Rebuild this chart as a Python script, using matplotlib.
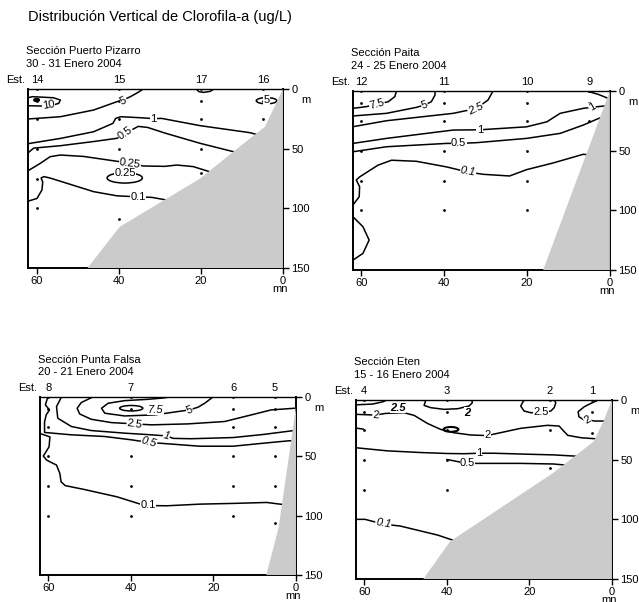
import matplotlib.pyplot as plt
from matplotlib.patches import Ellipse

plt.rcParams['font.family'] = ['Liberation Sans', 'DejaVu Sans']

# ---------------- Sección Puerto Pizarro ----------------
pp_est = ["14", "15", "17", "16"]
pp_est_x = [60, 40, 20, 4.8]
pp_depths = [[0, 10, 25, 50, 75, 100], [0, 10, 25, 50, 109], [0, 10, 25, 50, 70], [0, 10, 25]]
pp_shelf_x = [47.7, 39.8, 20.2, 12.1, 4.4, 0, 0]
pp_shelf_d = [150, 115.4, 75, 52.5, 31.6, 0, 150]
pp_c10_x = [62.2, 61.1, 56, 54.3, 54.7, 56.5, 59.2, 62.2]
pp_c10_d = [7.3, 6.4, 7.3, 9.2, 12, 13.8, 14.2, 14.0]
pp_c5_x = [62.2, 54.3, 46.2, 40.5, 38.9, 37, 35.2, 34.1]
pp_c5_d = [25.1, 23.2, 17.6, 10.6, 9.2, 6, 2.5, 0]
pp_cap_x = [21.2, 20.5, 19.4, 17.8, 16.8]
pp_cap_d = [0, 2.2, 2.8, 2.0, 0]
pp_c1_x = [62.2, 54.3, 46.2, 41.5, 40.8, 39.6, 35, 31.6, 29.6, 20.2, 8.0, 5.5]
pp_c1_d = [45.8, 41.4, 35.8, 28.8, 24.6, 23.2, 24, 24.8, 24.6, 30.7, 36.6, 39]
pp_c05_x = [62.2, 60.8, 54.3, 46.2, 40.5, 38.5, 36.5, 35.3, 33, 28.8, 20.2, 12.1, 6]
pp_c05_d = [53.5, 49.5, 47.5, 44, 41.3, 37.5, 33.5, 31.3, 32.2, 36.9, 45.5, 52.5, 58]
pp_c025_x = [62.2, 59.2, 56.8, 54.3, 48.6, 41, 37.3, 34.1, 28.8, 25.9, 21.9, 17.4, 14]
pp_c025_d = [68.5, 62.3, 56.7, 55.3, 56.5, 60.3, 62, 64.5, 64.8, 63.7, 65, 69.8, 75]
pp_c01_x = [62.2, 60, 58.8, 58.6, 59, 58.3, 56.8, 52.7, 46.2, 40.5, 37.5, 35.3, 32, 28.4, 24]
pp_c01_d = [94, 91.7, 84.6, 78, 74.5, 73.4, 74.6, 79, 86, 89.5, 90, 90.3, 90.8, 93, 96]
# closed loops: centre x, centre depth, width (mn), height (m), line width
pp_loops = [(60.1, 9.2, 1.0, 1.4, 2.0), (4.0, 9.8, 5.0, 5.2, 1.1), (38.6, 74.5, 8.6, 8.6, 1.1)]

# ---------------- Sección Paita ----------------
pa_est = ["12", "11", "10", "9"]
pa_est_x = [60, 40, 20, 5]
pa_depths = [[0, 10, 25, 50, 75, 100], [0, 10, 25, 50, 75, 100], [0, 10, 25, 50, 75, 100], [0, 10, 25]]
pa_shelf_x = [16.1, 0, 0]
pa_shelf_d = [150, 0, 150]
pa_c75_x = [62, 58.8, 56, 53.5, 51.9, 51.5]
pa_c75_d = [14.5, 13.1, 10.9, 9, 4.7, 0]
pa_c5_x = [62, 53.9, 46.7, 44.7, 43.1, 42.2, 42.2]
pa_c5_d = [20.9, 18.7, 13.7, 11.7, 9, 3.4, 0]
pa_c25_x = [62, 53.9, 37.8, 32.2, 29.4, 28.2]
pa_c25_d = [29.9, 24.9, 18.7, 14.6, 7.5, 0]
pa_top_x = [5.6, 2.8, 0.8, 0]
pa_top_d = [0, 2.8, 5.6, 6.5]
pa_c1_x = [62, 53.9, 37.8, 31.4, 20.1, 15.2, 12, 6.4, 4.4, 1.0]
pa_c1_d = [43.9, 39.7, 32.7, 32.5, 30, 25.8, 18.7, 14.5, 13.7, 12.4]
pa_c05_x = [62, 53.9, 39.4, 36.6, 32.2, 20.1, 12, 6.4, 3.2, 2]
pa_c05_d = [50.9, 46.7, 43.9, 43.9, 43.3, 39.7, 35.5, 28.5, 23.7, 22]
pa_c01_x = [5.0, 6.4, 13.7, 20.1, 24.2, 30.6, 34.4, 39.4, 46.7, 52.7, 56, 60.4, 61.2, 60.4, 60.5, 62]
pa_c01_d = [53.5, 53, 60.3, 65.9, 71.2, 69.8, 67.8, 63.6, 58.9, 58, 62.2, 72, 74.6, 80.2, 88.6, 95.5]
pa_c01b_x = [62, 59.6, 58.1, 59.6, 62]
pa_c01b_d = [105.4, 113.7, 124.9, 136.1, 141.7]
pa_loops = []

# ---------------- Sección Punta Falsa ----------------
pf_est = ["8", "7", "6", "5"]
pf_est_x = [60, 40, 15.2, 5.1]
pf_depths = [[0, 10, 25, 50, 75, 100], [0, 10, 25, 50, 75, 100], [0, 10, 25, 50, 75, 100], [0, 10, 25, 50, 75, 106]]
pf_shelf_x = [7.2, 4.2, 1.5, 0, 0]
pf_shelf_d = [150, 110, 45, 8, 150]
pf_c5_x = [20.1, 22.1, 23.7, 25.8, 28.6, 34.2, 41.5, 46.3, 47.1, 45.5, 41.5, 35.9, 32, 30.6]
pf_c5_d = [0, 5.3, 8.6, 10.9, 12.3, 15.1, 16, 13.7, 9.5, 5.3, 3.1, 2, 0.8, 0]
pf_c25_x = [49.2, 52, 53, 52.4, 49.6, 44.7, 39.1, 35, 26.2, 17.3, 10.8, 6, 0.3]
pf_c25_d = [0, 4.7, 9.5, 14.3, 18.8, 21.6, 22.7, 23.5, 22.7, 20.7, 15.1, 10.9, 9.5]
pf_c1_x = [56.8, 58, 57.7, 54.4, 49.6, 41.5, 35.9, 31.4, 29.7, 25.4, 15.2, 7.9, 0.5]
pf_c1_d = [0, 8.1, 17.9, 24.9, 28.3, 30.5, 31.7, 32.8, 34.9, 35.2, 34.2, 31.6, 28.3]
pf_c05_x = [60.1, 60.7, 59.7, 60.5, 60.9, 60.9, 54.4, 46.4, 39.9, 35.5, 32.1, 23.3, 15.2, 7.1, 1.9, 0.5]
pf_c05_d = [0, 6.7, 10.9, 15.1, 21, 29.9, 31.9, 33.3, 36.1, 38.4, 39.2, 41.5, 41.5, 38.7, 37, 36.8]
pf_c01_x = [62, 59.6, 59.8, 60.8, 61.2, 60.4, 58, 57.2, 56.9, 55.9, 51.5, 43.4, 37.8, 35.8, 31.3, 23.2, 15.2, 7.1, 3.9, 2]
pf_c01_d = [30.8, 33.6, 42, 47.6, 49.8, 53.2, 57.4, 64.4, 71.4, 74.7, 77.8, 84.1, 90.2, 91.5, 91.7, 90.3, 89.7, 88.9, 90.3, 91]
pf_loops = [(39.9, 9.5, 5.6, 4.6, 1.1)]

# ---------------- Sección Eten ----------------
et_est = ["4", "3", "2", "1"]
et_est_x = [60, 40, 15, 4.9]
et_depths = [[0, 10, 25, 50, 75], [0, 10, 25, 50, 75], [0, 25, 56.7], [0, 10, 27.4]]
et_shelf_x = [45.7, 39.2, 14.2, 4.5, 2.2, 0, 0]
et_shelf_d = [150, 118.5, 61, 35, 19, 0, 150]
et_c25a_x = [62, 58, 55.5, 54.5]
et_c25a_d = [4, 3.4, 1.5, 0]
et_c2_x = [62, 57.2, 54.8, 50.4, 47.9, 44.7, 41.5, 38.3, 34.2, 30.2, 27.7, 22.1, 15.6, 12.8, 11.7, 10.7, 7.5, 4.3, 2.5]
et_c2_d = [12, 12.6, 11.2, 10.6, 12.9, 19.6, 24.6, 27.4, 29.3, 29.8, 27.9, 23.7, 21.2, 21.8, 26, 29.6, 31.6, 32.4, 32.4]
et_c2s_x = [62, 60.2]
et_c2s_d = [23.5, 24.4]
et_c2u_x = [45.1, 45.5, 43.9, 40.7, 37.4, 34.6, 33.8, 34]
et_c2u_d = [0, 4.5, 6.4, 7.8, 7.3, 5, 2.2, 0]
et_c25b_x = [21.3, 22.1, 21.3, 19.7, 17.2, 14.8, 14, 13.6, 14]
et_c25b_d = [0, 5, 9.2, 10.6, 10.6, 9.2, 6.4, 2.2, 0]
et_c2r_x = [3.3, 5.1, 6.7, 8.2, 8, 6.7, 5.9, 4.3, 2.1, 1.0]
et_c2r_d = [0, 2.8, 5.6, 9.8, 14, 16.8, 16.5, 17.6, 17.6, 17.6]
et_c1_x = [62, 54.4, 46.3, 40, 35.8, 32.2, 28.6, 20.6, 14, 9, 6]
et_c1_d = [40, 42.6, 44, 44.8, 45, 44.6, 44.6, 45.4, 46, 47, 48]
et_c05_x = [40, 37.5, 35.2, 32.8, 22.2, 14.2, 11.3, 9]
et_c05_d = [49.8, 51.5, 53.1, 53.1, 53.1, 53.6, 54.5, 56]
et_c01_x = [62, 59.8, 55.4, 51.3, 46.5, 42.2, 38.6, 37]
et_c01_d = [100, 100, 104, 105.6, 109.6, 113.2, 117.4, 120]
et_loops = [(39.0, 24.6, 3.6, 4.0, 1.5)]

# label placements: text, x, depth, rotation, style
pp_labels = [("10", 57.2, 13.6, 10, ""), ("5", 38.9, 9.6, 25, ""), ("5", 4.0, 9.4, 0, ""),
             ("1", 31.6, 24.7, 0, ""), ("0.5", 38.4, 37.4, 35, ""), ("0.25", 37.3, 62.2, -8, ""),
             ("0.25", 38.5, 70.6, 0, ""), ("0.1", 35.3, 90.4, 0, "")]
pa_labels = [("7.5", 56.2, 11.3, 15, ""), ("5", 44.7, 11.9, 20, ""), ("2.5", 32.4, 14.8, 25, "i"),
             ("1", 31.4, 32.6, 0, ""), ("1", 4.3, 13.6, 30, ""), ("0.5", 36.5, 43.8, 0, ""),
             ("0.1", 34.2, 67.6, -10, "i")]
pf_labels = [("7.5", 34.0, 10.6, 0, "i"), ("5", 25.8, 10.9, 20, ""), ("2.5", 39.1, 22.7, -8, ""),
             ("1", 31.4, 33.0, -15, "i"), ("0.5", 35.6, 38.4, -15, "i"), ("0.1", 35.8, 91.3, 0, "")]
et_labels = [("2.5", 51.8, 6.8, 0, "bi"), ("2", 57.2, 12.5, -5, ""), ("2", 35.0, 10.5, 0, "bi"),
             ("2.5", 17.2, 10.4, 0, ""), ("2", 6.0, 16.4, 30, ""), ("2", 30.2, 29.7, 0, ""),
             ("1", 32.2, 44.6, 0, ""), ("0.5", 35.0, 53.1, 0, ""), ("0.1", 55.4, 103.6, -10, "i")]

panels = [
    ("Sección Puerto Pizarro", "30 - 31 Enero 2004", [0.0438, 0.5548, 0.399, 0.2973], 62.2,
     pp_est, pp_est_x, pp_depths, pp_shelf_x, pp_shelf_d,
     [(pp_c10_x, pp_c10_d), (pp_c5_x, pp_c5_d), (pp_cap_x, pp_cap_d), (pp_c1_x, pp_c1_d),
      (pp_c05_x, pp_c05_d), (pp_c025_x, pp_c025_d), (pp_c01_x, pp_c01_d)], pp_loops, pp_labels),
    ("Sección Paita", "24 - 25 Enero 2004", [0.5524, 0.5515, 0.402, 0.2973], 62.0,
     pa_est, pa_est_x, pa_depths, pa_shelf_x, pa_shelf_d,
     [(pa_c75_x, pa_c75_d), (pa_c5_x, pa_c5_d), (pa_c25_x, pa_c25_d), (pa_top_x, pa_top_d),
      (pa_c1_x, pa_c1_d), (pa_c05_x, pa_c05_d), (pa_c01_x, pa_c01_d), (pa_c01b_x, pa_c01b_d)],
     pa_loops, pa_labels),
    ("Sección Punta Falsa", "20 - 21 Enero 2004", [0.0626, 0.0449, 0.4006, 0.2957], 62.0,
     pf_est, pf_est_x, pf_depths, pf_shelf_x, pf_shelf_d,
     [(pf_c5_x, pf_c5_d), (pf_c25_x, pf_c25_d), (pf_c1_x, pf_c1_d), (pf_c05_x, pf_c05_d),
      (pf_c01_x, pf_c01_d)], pf_loops, pf_labels),
    ("Sección Eten", "15 - 16 Enero 2004", [0.5571, 0.0382, 0.4006, 0.2973], 62.0,
     et_est, et_est_x, et_depths, et_shelf_x, et_shelf_d,
     [(et_c25a_x, et_c25a_d), (et_c2_x, et_c2_d), (et_c2s_x, et_c2s_d), (et_c2u_x, et_c2u_d),
      (et_c25b_x, et_c25b_d), (et_c2r_x, et_c2r_d), (et_c1_x, et_c1_d), (et_c05_x, et_c05_d),
      (et_c01_x, et_c01_d)], et_loops, et_labels),
]

fig = plt.figure(figsize=(6.39, 6.02), dpi=100)
fig.text(28 / 639, 1 - 17 / 602, "Distribución Vertical de Clorofila-a (ug/L)", fontsize=10.5, va="center")

for (name, date, pos, xmax, est, est_x, depths, shx, shd, lines, loops, labels) in panels:
    ax = fig.add_axes(pos)
    for lx, ld in lines:
        ax.plot(lx, ld, color="black", lw=1.1, zorder=2, solid_capstyle="round")
    for cx, cy, w, h, lw in loops:
        ax.add_patch(Ellipse((cx, cy), w, h, fill=False, ec="black", lw=lw, zorder=2))
    for sx, ds in zip(est_x, depths):
        ax.plot([sx] * len(ds), ds, "o", color="black", ms=2.0, mew=0, zorder=2.5)
    for txt, tx, td, rot, st in labels:
        ax.text(tx, td, txt, ha="center", va="center", rotation=rot, fontsize=8,
                fontstyle="italic" if "i" in st else "normal",
                fontweight="bold" if "b" in st else "normal",
                bbox=dict(fc="white", ec="none", pad=0.2), zorder=3)
    ax.fill(shx, shd, color="#cbcbcb", lw=0, zorder=4)

    ax.set_xlim(xmax, 0)
    ax.set_ylim(150, 0)
    ax.set_xticks([60, 40, 20, 0])
    ax.set_yticks([0, 50, 100, 150])
    ax.yaxis.tick_right()
    ax.tick_params(axis="both", direction="out", length=4, width=1, labelsize=8, pad=2)
    for s in ["left", "right", "bottom"]:
        ax.spines[s].set_linewidth(1.4)
    ax.spines["top"].set_linewidth(1.0)

    tr = ax.get_xaxis_transform()
    for sx, sn in zip(est_x, est):
        ax.text(sx, 1.02, sn, transform=tr, ha="center", va="bottom", fontsize=8)
    ax.text(-0.013, 1.02, "Est.", transform=ax.transAxes, ha="right", va="bottom", fontsize=8)
    ax.text(-0.008, 1.21, name, transform=ax.transAxes, va="center", fontsize=8)
    ax.text(-0.008, 1.14, date, transform=ax.transAxes, va="center", fontsize=8)
    ax.text(1.07, 0.94, "m", transform=ax.transAxes, va="center", fontsize=8)
    ax.text(0.99, -0.12, "mn", transform=ax.transAxes, ha="center", va="center", fontsize=8)

fig.savefig("out.png", dpi=100)
